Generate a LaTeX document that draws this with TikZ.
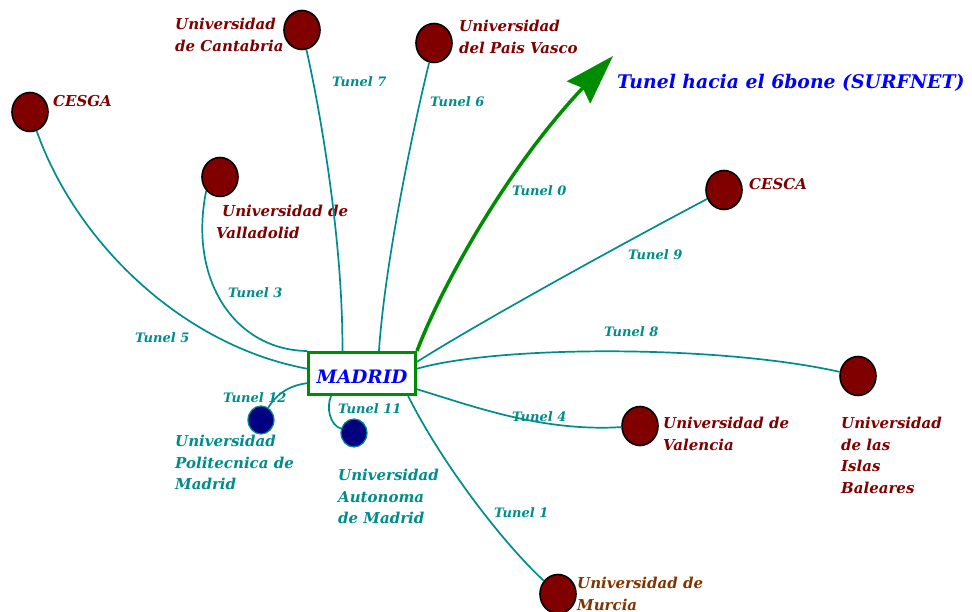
\documentclass[tikz,border=0pt]{standalone}
\usepackage{fontspec}
\setmainfont{DejaVu Serif}
\usetikzlibrary{shapes.geometric,arrows.meta}

\definecolor{uniRed}{RGB}{128,0,0}
\definecolor{murBrown}{RGB}{128,52,0}
\definecolor{tunTeal}{RGB}{0,140,140}
\definecolor{madNavy}{RGB}{0,0,128}
\definecolor{sixGreen}{RGB}{0,140,0}

\begin{document}
\begin{tikzpicture}[x=1pt, y=-1pt, font=\bfseries\itshape,
    uni/.style={ellipse, draw=black, line width=1.6pt, fill=uniRed,
      minimum width=36pt, minimum height=39pt, inner sep=0pt},
    maduni/.style={ellipse, draw=tunTeal, line width=1.2pt, fill=madNavy,
      minimum width=26pt, minimum height=28pt, inner sep=0pt},
    tunnel/.style={draw=tunTeal, line width=1.7pt},
    tlab/.style={anchor=base west, inner sep=0pt, text=tunTeal,
      font=\bfseries\itshape\fontsize{13}{15}\selectfont},
    ulab/.style={anchor=north west, inner sep=0pt, align=left, text=uniRed,
      font=\bfseries\itshape\fontsize{15}{21.5}\selectfont}]
  \useasboundingbox (0,0) rectangle (972,612);

  % ----- MADRID and the 6bone -----
  \node[draw=sixGreen, line width=3pt, text=blue, minimum width=107pt,
    minimum height=42pt, text height=19pt, text depth=0pt, inner sep=0pt,
    font=\bfseries\itshape\fontsize{18.5}{21}\selectfont]
    (madrid) at (362,373.5) {MADRID};
  \coordinate (sixtip) at (613,56);
  \node[anchor=base west, inner sep=0pt, text=blue,
    font=\bfseries\itshape\fontsize{18.8}{20}\selectfont]
    (sixbone) at (617,89) {Tunel hacia el 6bone (SURFNET)};

  % ----- universities -----
  \node[uni] (cantabria)  at (302,30)  {};
  \node[uni] (paisvasco)  at (434,43)  {};
  \node[uni] (cesga)      at (30,112)  {};
  \node[uni] (valladolid) at (220,177) {};
  \node[uni] (cesca)      at (724,190) {};
  \node[uni] (baleares)   at (858,376) {};
  \node[uni] (valencia)   at (640,426) {};
  \node[uni] (murcia)     at (558,594) {};
  \node[maduni] (upm) at (261,420) {};
  \node[maduni] (uam) at (354,433) {};

  \node[ulab] (cantabriaL)  at (175,18)  {Universidad\\de Cantabria};
  \node[ulab] (paisvascoL)  at (459,20)  {Universidad\\del Pais Vasco};
  \node[ulab] (cesgaL)      at (53,95)   {CESGA};
  \node[ulab] (valladolidL) at (216,205) {\hspace*{6pt}Universidad de\\Valladolid};
  \node[ulab] (cescaL)      at (749,178) {CESCA};
  \node[ulab] (balearesL)   at (841,417) {Universidad\\de las\\Islas\\Baleares};
  \node[ulab] (valenciaL)   at (663,417) {Universidad de\\Valencia};
  \node[ulab, text=murBrown] (murciaL) at (577,577) {Universidad de\\Murcia};
  \node[ulab, text=tunTeal] (upmL) at (175,435) {Universidad\\Politecnica de\\Madrid};
  \node[ulab, text=tunTeal] (uamL) at (338,469) {Universidad\\Autonoma\\de Madrid};

  % ----- tunnels -----
  \draw[sixGreen, line width=3.5pt,
    -{Stealth[length=50pt, width=32pt, inset=6pt]}]
    (madrid.north east) .. controls (440,290) and (505,170) .. (sixtip);
  \draw[tunnel] (cantabria) .. controls (320,110) and (343,240) .. (madrid.131);
  \draw[tunnel] (paisvasco) .. controls (415,120) and (385,260) .. (madrid.53);
  \draw[tunnel] (cesga) .. controls (75,240) and (180,345) .. (madrid.175);
  \draw[tunnel] (valladolid.225) .. controls (188,280) and (235,350) .. (madrid.north west);
  \draw[tunnel] (madrid.190) .. controls (285,386) and (274,398) .. (upm);
  \draw[tunnel] (madrid.216) .. controls (326,408) and (330,425) .. (uam);
  \draw[tunnel] (madrid.334) .. controls (440,460) and (500,540) .. (murcia);
  \draw[tunnel] (madrid.344) .. controls (470,405) and (540,432) .. (valencia);
  \draw[tunnel] (madrid.5) .. controls (500,345) and (720,345) .. (baleares);
  \draw[tunnel] (madrid.12) .. controls (480,322) and (620,245) .. (cesca);

  \node[tlab] (t0)  at (512,196) {Tunel 0};
  \node[tlab] (t1)  at (494,517) {Tunel 1};
  \node[tlab] (t3)  at (228,298) {Tunel 3};
  \node[tlab] (t4)  at (512,421) {Tunel 4};
  \node[tlab] (t5)  at (135,343) {Tunel 5};
  \node[tlab] (t6)  at (430,107) {Tunel 6};
  \node[tlab] (t7)  at (332,87)  {Tunel 7};
  \node[tlab] (t8)  at (604,337) {Tunel 8};
  \node[tlab] (t9)  at (628,260) {Tunel 9};
  \node[tlab] (t11) at (338,413) {Tunel 11};
  \node[tlab] (t12) at (223,402) {Tunel 12};
\end{tikzpicture}
\end{document}
